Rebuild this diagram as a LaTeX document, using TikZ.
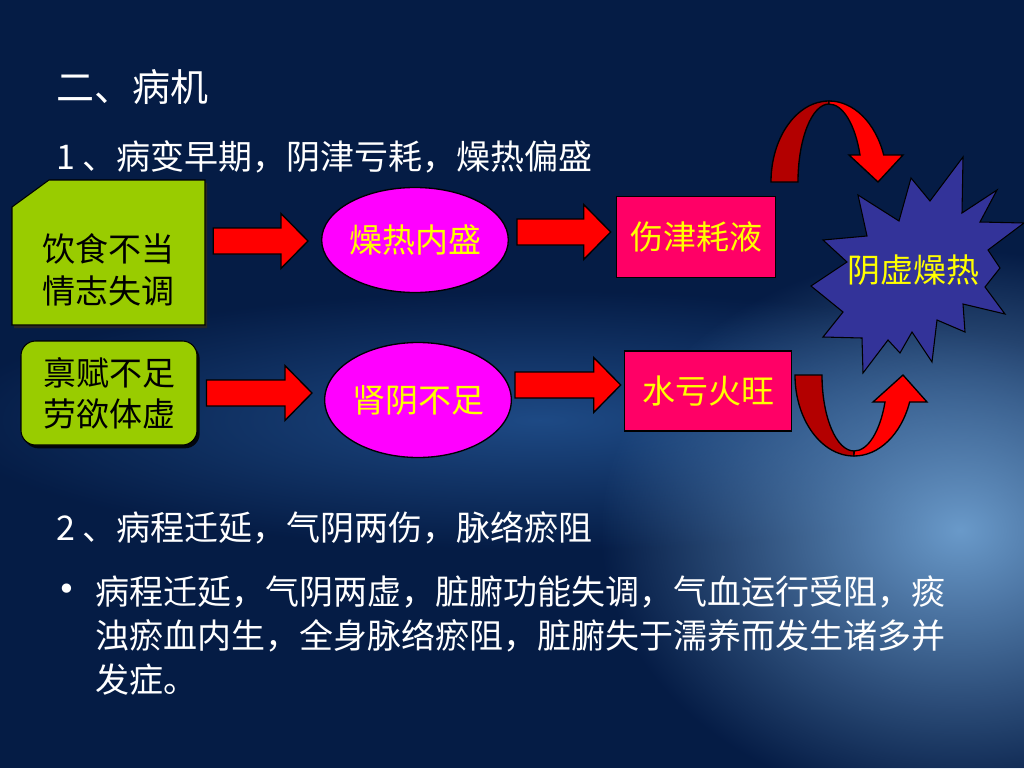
\documentclass[tikz,border=0pt]{standalone}
\usepackage{fontspec}
\usepackage{tikz}
\usetikzlibrary{arrows.meta,positioning,calc,shapes.geometric,shadows,fadings}
\newfontfamily\cjk{Noto Sans CJK SC}
\newfontfamily\dejavu{DejaVu Sans}
\definecolor{slidebg}{HTML}{051C45}
\definecolor{glowblue}{HTML}{6A9ACA}
\definecolor{midblue}{HTML}{1E4A85}
\definecolor{leafgreen}{HTML}{99CC00}
\definecolor{hotpink}{HTML}{FF0066}
\definecolor{ovalpink}{HTML}{FF00FF}
\definecolor{starblue}{HTML}{333399}
\definecolor{brightred}{HTML}{FF0000}
\definecolor{deepred}{HTML}{B30000}
\definecolor{textyellow}{HTML}{FFFF00}
\newcommand{\titlefont}{\cjk\fontsize{28.5}{34}\selectfont}
\newcommand{\bodyfont}{\cjk\fontsize{25.5}{33}\selectfont}
\newcommand{\boxfont}{\cjk\fontsize{24.75}{31}\selectfont}
\tikzfading[name=softglow, inner color=transparent!0, outer color=transparent!100]
\newcommand{\fatarrow}[2]{%
  \path[fatarr] let \p1=(#1), \p2=(#2) in
    (\x1,{\y1+9.75pt}) -- ({\x2-20.25pt},{\y1+9.75pt}) -- ({\x2-20.25pt},{\y1+20.6pt})
    -- (\x2,\y1) -- ({\x2-20.25pt},{\y1-20.6pt}) -- ({\x2-20.25pt},{\y1-9.75pt})
    -- (\x1,{\y1-9.75pt}) -- cycle;}

\begin{document}
\begin{tikzpicture}[
  x=0.75pt, y=-0.75pt,
  heading/.style={anchor=west,inner sep=0pt,text=white},
  srcbox/.style={align=center,text=black,font=\boxfont,inner sep=0pt},
  oval/.style={ellipse,draw=black,line width=1pt,fill=ovalpink,text=textyellow,font=\boxfont,inner sep=0pt},
  result/.style={rectangle,draw=black,line width=1.2pt,fill=hotpink,text=textyellow,font=\boxfont,inner sep=0pt},
  fatarr/.style={fill=brightred,draw=black,line width=1pt},
  turnback/.style={fill=deepred,draw=black,line width=1pt},
  turnfront/.style={fill=brightred,draw=black,line width=1pt}
]
\useasboundingbox (0,0) rectangle (1024,768);
\fill[slidebg] (0,0) rectangle (1024,768);
\fill[midblue, path fading=softglow] (540,420) ellipse[x radius=600, y radius=130];
\fill[glowblue, path fading=softglow] (960,530) ellipse[x radius=360, y radius=280];

\node[heading,font=\titlefont] (title) at (56,87) {二、病机};
\node[heading,font=\bodyfont] (stage1) at (56,157) {1 、病变早期，阴津亏耗，燥热偏盛};

\fill[black!85, shift={(2,3)}] (12,207) -- (49,180) -- (205,180) -- (205,325) -- (12,325) -- cycle;
\filldraw[fill=leafgreen, draw=black, line width=0.8pt] (12,207) -- (49,180) -- (205,180) -- (205,325) -- (12,325) -- cycle;
\node[srcbox, minimum width=144.75pt] (diet) at (108.5,270) {饮食不当\\情志失调};
\node[srcbox, fill=leafgreen, draw=black, line width=0.8pt, rounded corners=11pt,
  minimum width=132pt, minimum height=78pt,
  drop shadow={shadow xshift=2pt, shadow yshift=-2.5pt, fill=black, opacity=.85}] (frail) at (109,393) {禀赋不足\\劳欲体虚};

\node[oval, minimum width=120.75pt, minimum height=78.75pt] (heat) at (415,240) {燥热内盛};
\node[oval, minimum width=136.5pt, minimum height=86.25pt] (kidney) at (418,400) {肾阴不足};
\node[result, minimum width=119.25pt, minimum height=60.75pt] (fluid) at (696,237) {伤津耗液};
\node[result, minimum width=125.25pt, minimum height=60pt] (water) at (708,391) {水亏火旺};

\filldraw[fill=starblue, draw=black, line width=0.8pt] (963,157) -- (930,201) -- (911,178) -- (899,221)
  -- (858,195) -- (867,236) -- (823,240) -- (847,262) -- (811,286) -- (843,312) -- (823,337)
  -- (862,338) -- (863,373) -- (888,340) -- (900,353) -- (912,332) -- (932,362) -- (937,320)
  -- (965,332) -- (963,304) -- (1005,314) -- (985,287) -- (1000,268) -- (988,250) -- (1024,223)
  -- (980,222) -- (997,190) -- (962,213) -- cycle;
\node[text=textyellow, font=\boxfont, inner sep=0pt] (dryheat) at (913,270) {阴虚燥热};

\fatarrow{$(diet.east)+(8,-29)$}{$(heat.west)+(-13,0)$}
\fatarrow{$(heat.east)+(8,-8)$}{$(fluid.west)+(-5,0)$}
\fatarrow{$(frail.east)+(9,0)$}{$(kidney.west)+(-12,0)$}
\fatarrow{$(kidney.east)+(3,-15)$}{$(water.west)+(-3,0)$}

\coordinate (upturn) at (829,182);
\coordinate (downturn) at (854,375);
\begin{scope}[shift={(upturn)}]
\path[turnback] (-58,0) arc[start angle=180, end angle=270, x radius=58, y radius=81]
  -- (0,-78) arc[start angle=270, end angle=180, x radius=31, y radius=78] -- cycle;
\path[turnfront] (0,-81) arc[start angle=270, end angle=340.5, x radius=58, y radius=81]
  -- (74,-27) -- (49,0) -- (20,-27) -- (31,-27)
  arc[start angle=339.7, end angle=270, x radius=33, y radius=78] -- cycle;
\end{scope}
\begin{scope}[shift={(downturn)}]
\path[turnback] (-59,0) arc[start angle=180, end angle=90, x radius=59, y radius=81]
  -- (0,76) arc[start angle=90, end angle=180, x radius=32, y radius=76] -- cycle;
\path[turnfront] (0,81) arc[start angle=90, end angle=19.5, x radius=59, y radius=81]
  -- (73,27) -- (49,0) -- (19,27) -- (31,27)
  arc[start angle=20.8, end angle=90, x radius=33, y radius=76] -- cycle;
\end{scope}

\node[heading,font=\bodyfont] (stage2) at (56,528) {2 、病程迁延，气阴两伤，脉络瘀阻};
\node[text=white, font=\dejavu\fontsize{24}{28}\selectfont, inner sep=0pt] (dot) at (67,592) {•};
\node[anchor=north west, align=left, text=white, font=\bodyfont, inner sep=0pt] (detail) at (95,575)
  {病程迁延，气阴两虚，脏腑功能失调，气血运行受阻，痰\\浊瘀血内生，全身脉络瘀阻，脏腑失于濡养而发生诸多并\\发症。};
\end{tikzpicture}
\end{document}
